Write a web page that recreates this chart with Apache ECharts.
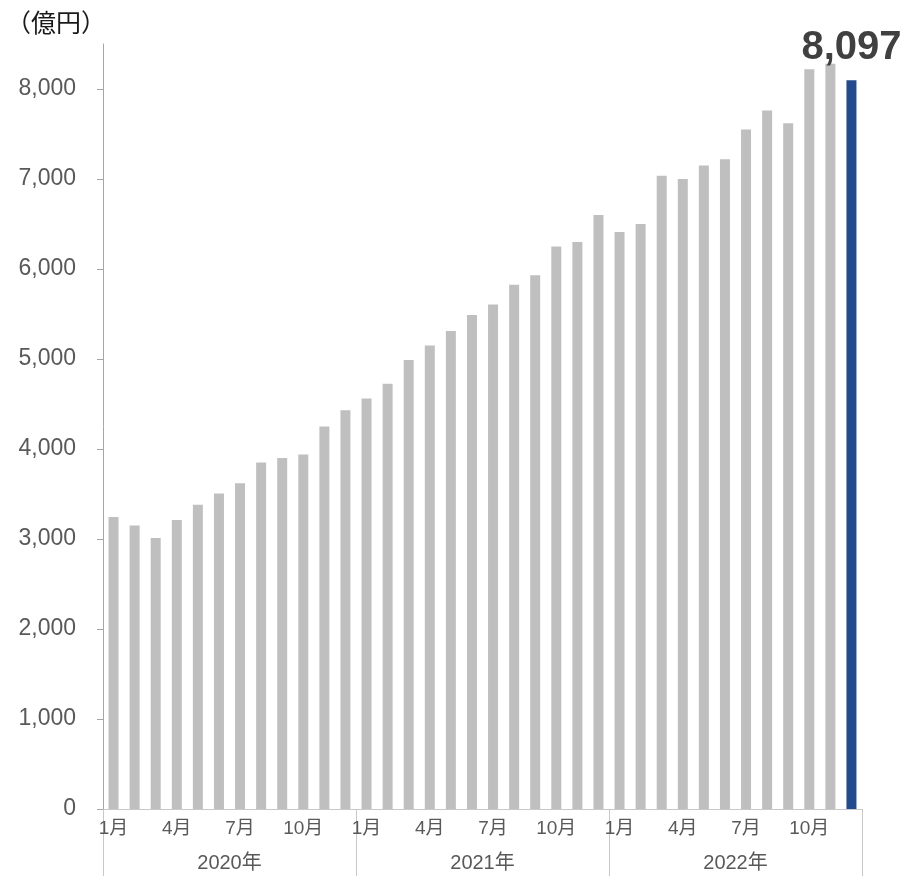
<!DOCTYPE html>
<html>
<head>
<meta charset="utf-8">
<script src="https://cdn.jsdelivr.net/npm/echarts@6/dist/echarts.min.js"></script>
<style>
html,body{margin:0;padding:0;background:#fff;}
#chart{width:911px;height:876px;}
</style>
</head>
<body>
<div id="chart"></div>
<script>
const years = ['2020年', '2021年', '2022年'];
const months = ['1月','2月','3月','4月','5月','6月','7月','8月','9月','10月','11月','12月'];
const values = [
  3245, 3150, 3010, 3210, 3380, 3505, 3620, 3850, 3900, 3940, 4250, 4430,
  4560, 4725, 4990, 5150, 5310, 5490, 5605, 5825, 5930, 6250, 6300, 6600,
  6410, 6500, 7035, 7000, 7150, 7220, 7550, 7760, 7620, 8220, 8280, 8097
];
const yTicks = [0, 1000, 2000, 3000, 4000, 5000, 6000, 7000, 8000];
const unitLabel = '（億円）';

const categories = years.flatMap(y => months.map(m => y + m));
const lastIdx = values.length - 1;
const FONT = "'Liberation Sans', Arial, 'Noto Sans CJK JP', sans-serif";

const chart = echarts.init(document.getElementById('chart'), null, {renderer: 'canvas'});
chart.setOption({
  animation: false,
  backgroundColor: '#ffffff',
  title: {
    text: unitLabel,
    left: 1, top: 8,
    textStyle: {fontFamily: FONT, fontSize: 25, fontWeight: 'normal', color: '#1a1a1a'}
  },
  grid: {left: 103, right: 49, top: 44, bottom: 67, containLabel: false},
  xAxis: [
    {
      type: 'category',
      data: categories,
      position: 'bottom',
      axisLine: {show: true, lineStyle: {color: '#c8c8c8', width: 1}},
      axisTick: {show: false},
      axisLabel: {
        interval: (i) => i % 3 === 0,
        formatter: (v, i) => months[i % 12],
        fontFamily: FONT, fontSize: 19, color: '#595959', margin: 10
      },
      splitLine: {show: false}
    },
    {
      type: 'category',
      data: years,
      position: 'bottom',
      offset: 0,
      axisLine: {show: false},
      axisTick: {show: true, length: 72, lineStyle: {color: '#c8c8c8', width: 1}},
      axisLabel: {fontFamily: FONT, fontSize: 20, color: '#595959', margin: 44},
      splitLine: {show: false}
    }
  ],
  yAxis: {
    type: 'value',
    min: 0, max: 8500, interval: 1000,
    axisLine: {show: true, lineStyle: {color: '#a6a6a6', width: 1}},
    axisTick: {show: true, length: 6, lineStyle: {color: '#a6a6a6'}, customValues: yTicks},
    axisLabel: {
      customValues: yTicks,
      formatter: (v) => v.toLocaleString('en-US'),
      fontFamily: FONT, fontSize: 23, color: '#595959', margin: 27
    },
    splitLine: {show: false}
  },
  series: [{
    type: 'bar',
    xAxisIndex: 0,
    barWidth: 10,
    data: values.map((v, i) => i === lastIdx ? {
      value: v,
      itemStyle: {color: '#234a8c'},
      label: {
        show: true, position: 'top', distance: 12,
        formatter: (p) => p.value.toLocaleString('en-US'),
        fontFamily: FONT, fontSize: 40, fontWeight: 'bold', color: '#404040'
      }
    } : {value: v, itemStyle: {color: '#bfbfbf'}})
  }]
});
</script>
</body>
</html>
